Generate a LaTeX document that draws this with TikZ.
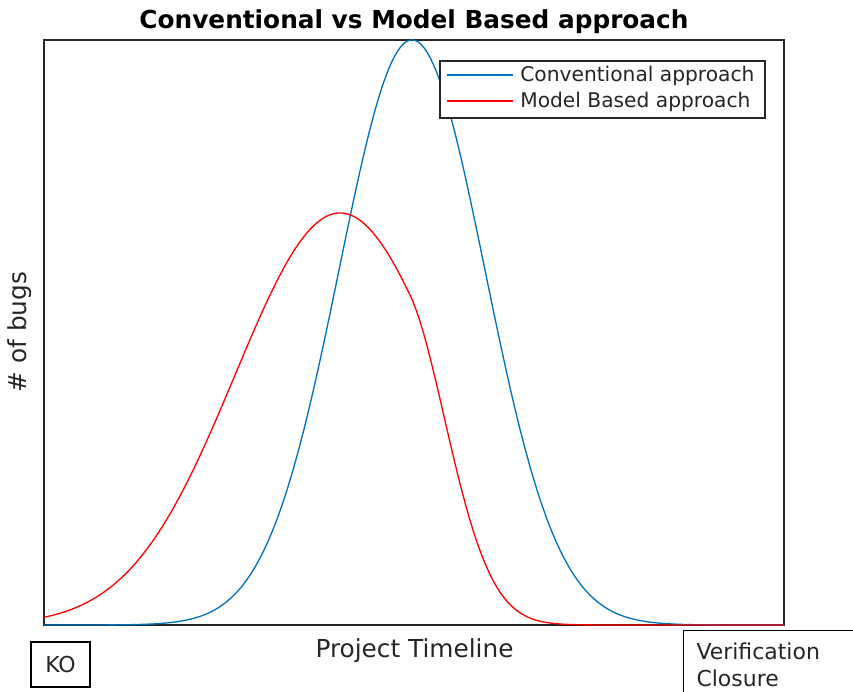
\documentclass[tikz,border=0pt]{standalone}
\usepackage{fontspec}
\setmainfont{DejaVu Sans}
\usetikzlibrary{positioning}
\definecolor{convblue}{rgb}{0,0.447,0.741}
\definecolor{axisgray}{gray}{0.15}

\begin{document}
\begin{tikzpicture}[x=0.02cm,y=-0.02cm,
  axisline/.style={draw=axisgray,line width=0.6pt},
  conv/.style={convblue,line width=0.75pt},
  mbd/.style={red,line width=0.75pt},
  lbl/.style={font=\fontsize{14.1}{17}\selectfont,text=black!85,inner sep=0pt},
  legtext/.style={font=\fontsize{11.5}{13.8}\selectfont,text=black!85,anchor=west,inner sep=0pt},
  tagbox/.style={draw=black,line width=0.6pt,font=\fontsize{12.5}{15.3}\selectfont,text=black!85}]
  \useasboundingbox (0,0) rectangle (853,692);
  \draw[axisline] (44,40) rectangle (784,625);
  % curves
  \draw[conv] plot[domain=44:784,samples=250] (\x,{625-585*exp(-0.5*((\x-412)/73)^2)});
  \draw[mbd] plot[domain=44:413,samples=120] (\x,{625-412*exp(-0.5*((\x-340)/105)^2)})
    -- plot[domain=413:620,samples=80] (\x,{625-344*exp(-0.5*((\x-396)/48)^2)}) -- (784,625);
  \node[font=\bfseries\fontsize{14.1}{17}\selectfont,anchor=base,inner sep=0pt] (title) at (414,29) {Conventional vs Model Based approach};
  \node[lbl,anchor=base] (xlab) at (414.5,658) {Project Timeline};
  \node[lbl,anchor=base,rotate=90] (ylab) at (27,332) {\# of bugs};
  % legend
  \draw[axisline,fill=white] (440,61) rectangle (765,118);
  \draw[conv] (447,75) -- (513,75);
  \draw[mbd] (447,101) -- (513,101);
  \node[legtext] (legconv) at (520,76) {Conventional approach};
  \node[legtext] (legmbd) at (520,102) {Model Based approach};
  % tags
  \node[tagbox,minimum width=1.18cm,minimum height=0.9cm] (ko) at (60.5,664.5) {KO};
  \node[tagbox,anchor=north west,align=left,text width=4cm,inner xsep=0.26cm,inner ysep=0.24cm] (closure) at (683,630) {Verification\\Closure};
\end{tikzpicture}
\end{document}
